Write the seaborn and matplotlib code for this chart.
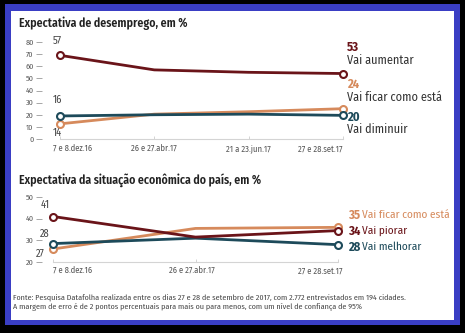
import matplotlib
matplotlib.use("Agg")
import matplotlib.pyplot as plt
import matplotlib.patches as mpatches
from matplotlib import font_manager
from matplotlib.transforms import offset_copy
import seaborn as sns
import pandas as pd

# ---------------- data ----------------
dates_top = ["7 e 8.dez.16", "26 e 27.abr.17", "21 a 23.jun.17", "27 e 28.set.17"]
aumentar = [69, 57, 55, 54]
ficar_top = [12.5, 20.5, 22.5, 25]
diminuir = [19, 20, 20.5, 19.5]
series_top = ["Vai aumentar", "Vai ficar como está", "Vai diminuir"]
first_labels_top = ["57", "14", "16"]
last_labels_top = ["53", "24", "20"]
yticks_top = [0, 10, 20, 30, 40, 50, 60, 70, 80]

dates_bot = ["7 e 8.dez.16", "26 e 27.abr.17", "27 e 28.set.17"]
piorar = [41, 31.5, 34.5]
ficar_bot = [26, 35.5, 36]
melhorar = [28.5, 31, 28]
series_bot = ["Vai piorar", "Vai ficar como está", "Vai melhorar"]
first_labels_bot = ["41", "27", "28"]
last_labels_bot = ["34", "35", "28"]
yticks_bot = [20, 30, 40, 50]

title_top = "Expectativa de desemprego, em %"
title_bot = "Expectativa da situação econômica do país, em %"
footer = ["Fonte: Pesquisa Datafolha realizada entre os dias 27 e 28 de setembro de 2017, com 2.772 entrevistados em 194 cidades.",
          "A margem de erro é de 2 pontos percentuais para mais ou para menos, com um nível de confiança de 95%"]

RED = "#6a1419"
ORANGE = "#d68a5c"
TEAL = "#1d4a5a"
BLUE = "#3a3ec4"

sns.set_theme(style="white")
available = {f.name for f in font_manager.fontManager.ttflist}
FONT = "DejaVu Sans"
for cand in ["Fira Sans Condensed", "Roboto Condensed", "PT Sans Narrow", "Asap Condensed",
             "Encode Sans Condensed", "Archivo Narrow", "Liberation Sans Narrow"]:
    if cand in available:
        FONT = cand
        break
plt.rcParams['font.family'] = [FONT, 'DejaVu Sans']

W, H = 465, 333
fig = plt.figure(figsize=(W / 100, H / 100), dpi=100)
fig.patch.set_facecolor("black")

fig.patches.append(mpatches.Rectangle((5 / W, 1 - 325 / H), 455 / W, 321 / H,
                                      transform=fig.transFigure, facecolor=BLUE, edgecolor="none", zorder=-5))
fig.patches.append(mpatches.Rectangle((11 / W, 1 - 320 / H), 443 / W, 309 / H,
                                      transform=fig.transFigure, facecolor="white", edgecolor="none", zorder=-4))

def px_rect(x0, y0, x1, y1):
    return [x0 / W, 1 - y1 / H, (x1 - x0) / W, (y1 - y0) / H]

def fx(x):
    return x / W

def fy(y):
    return 1 - y / H

groups = {}

def add_fit(group, t, target):
    groups.setdefault(group, []).append((t, target))

def style_axes(ax, yticks, ylim, xlim, n):
    ax.set_facecolor("none")
    ax.set_ylim(*ylim)
    ax.set_xlim(*xlim)
    for s in ["top", "right", "left"]:
        ax.spines[s].set_visible(False)
    ax.spines["bottom"].set_color("#d4d4d4")
    ax.spines["bottom"].set_linewidth(0.8)
    ax.spines["bottom"].set_bounds(0, n - 1)
    ax.set_yticks(yticks)
    ax.set_yticklabels([str(t) for t in yticks])
    ax.tick_params(axis="y", which="both", left=True, length=4.5, width=0.6, color="#999999",
                   labelsize=5.8, labelcolor="#555555", pad=1.5)
    ax.set_xticks(range(n))
    ax.set_xticklabels([])
    ax.tick_params(axis="x", bottom=True, direction="in", length=2.5, width=0.6, color="#cccccc")
    ax.set_xlabel("")
    ax.set_ylabel("")
    ax.grid(False)

def draw_series(ax, values_list, colors, first_labels, first_offsets, lab_ws):
    for vals, col, fl, off, lw in zip(values_list, colors, first_labels, first_offsets, lab_ws):
        df = pd.DataFrame({"x": list(range(len(vals))), "y": vals})
        sns.lineplot(data=df, x="x", y="y", ax=ax, color=col, linewidth=2.0,
                     marker="o", markersize=5, markerfacecolor="white", markeredgecolor=col,
                     markeredgewidth=1.5, markevery=[0, len(vals) - 1], clip_on=False)
        t = ax.annotate(fl, xy=(0, vals[0]), xytext=off, textcoords="offset pixels",
                        ha="center", va="center", fontsize=8, color="#444444")
        add_fit("first", t, lw)

# ---------------- top chart ----------------
ax1 = fig.add_axes(px_rect(42, 42, 345, 139))
xl1 = ((42 - 60) / 94.3, (345 - 60) / 94.3)
draw_series(ax1, [ficar_top, diminuir, aumentar], [ORANGE, TEAL, RED],
            [first_labels_top[1], first_labels_top[2], first_labels_top[0]],
            [(-3, -9), (-3, 16), (-3, 14)], [9, 9, 10])
style_axes(ax1, yticks_top, (0, 80), xl1, len(dates_top))
ha_top = ["left", "center", "center", "right"]
off_top = [-7, 0, 0, 0]
for i, (d, ha, o) in enumerate(zip(dates_top, ha_top, off_top)):
    t = ax1.annotate(d, xy=(i, 0), xycoords=("data", "axes fraction"), xytext=(o, -5),
                     textcoords="offset pixels", ha=ha, va="top", fontsize=5.5, color="#555555")
    add_fit("xt", t, 45 * len(d) / 14.0)

# ---------------- bottom chart ----------------
ax2 = fig.add_axes(px_rect(42, 197, 343, 262))
xl2 = ((42 - 53) / 142.5, (343 - 53) / 142.5)
draw_series(ax2, [ficar_bot, melhorar, piorar], [ORANGE, TEAL, RED],
            [first_labels_bot[1], first_labels_bot[2], first_labels_bot[0]],
            [(-13, -5), (-8, 10), (-8, 12)], [9, 9, 9])
style_axes(ax2, yticks_bot, (20, 50), xl2, len(dates_bot))
ha_bot = ["left", "center", "right"]
off_bot = [0, -4, 4]
for i, (d, ha, o) in enumerate(zip(dates_bot, ha_bot, off_bot)):
    t = ax2.annotate(d, xy=(i, 0), xycoords=("data", "axes fraction"), xytext=(o, -4),
                     textcoords="offset pixels", ha=ha, va="top", fontsize=5.5, color="#555555")
    add_fit("xt", t, 45 * len(d) / 14.0)

# ---------------- titles ----------------
t = fig.text(fx(19), fy(23), title_top, fontsize=9, fontweight="semibold", color="#222222", va="center", ha="left")
add_fit("title", t, 169)
t = fig.text(fx(19), fy(180), title_bot, fontsize=9, fontweight="semibold", color="#222222", va="center", ha="left")
add_fit("title", t, 243)

# ---------------- right-hand labels (top) ----------------
top_right = [(last_labels_top[0], "Vai aumentar", RED, 47, 60, 62),
             (last_labels_top[1], "Vai ficar como está", ORANGE, 84, 97, 100),
             (last_labels_top[2], "Vai diminuir", TEAL, 117, 129, 59)]
for num, txt, col, yn, yt, wt in top_right:
    t = fig.text(fx(347), fy(yn), num, fontsize=9, fontweight="bold", color=col, va="center", ha="left")
    add_fit("num", t, 12.5)
    t = fig.text(fx(347), fy(yt), txt, fontsize=8.5, color="#333333", va="center", ha="left")
    add_fit("rtop", t, wt)

# ---------------- right-hand labels (bottom) ----------------
bot_right = [(last_labels_bot[1], "Vai ficar como está", ORANGE, 215, 87),
             (last_labels_bot[0], "Vai piorar", RED, 231, 45),
             (last_labels_bot[2], "Vai melhorar", TEAL, 247, 61)]
tr = offset_copy(fig.transFigure, fig=fig, x=14, y=0, units="dots")
for num, txt, col, y, wt in bot_right:
    t = fig.text(fx(348), fy(y), num, fontsize=9, fontweight="bold", color=col, va="center", ha="left")
    add_fit("num", t, 12)
    t = fig.text(fx(348), fy(y), txt, fontsize=8.5, color=col, va="center", ha="left", transform=tr)
    add_fit("rbot", t, wt)

# ---------------- footer ----------------
t = fig.text(fx(13), fy(297), footer[0], fontsize=5.2, color="#444444", va="center", ha="left")
add_fit("foot", t, 383)
t = fig.text(fx(13), fy(307), footer[1], fontsize=5.2, color="#444444", va="center", ha="left")
add_fit("foot", t, 360)

# fit text widths to the reference, one common size per group
renderer = fig.canvas.get_renderer()
for _ in range(2):
    for g, items in groups.items():
        tw = sum(target for _, target in items)
        mw = sum(t.get_window_extent(renderer).width for t, _ in items)
        if mw > 0:
            s = tw / mw
            for t, _ in items:
                t.set_fontsize(t.get_fontsize() * s)

fig.savefig("out.png", dpi=100, facecolor=fig.get_facecolor())
